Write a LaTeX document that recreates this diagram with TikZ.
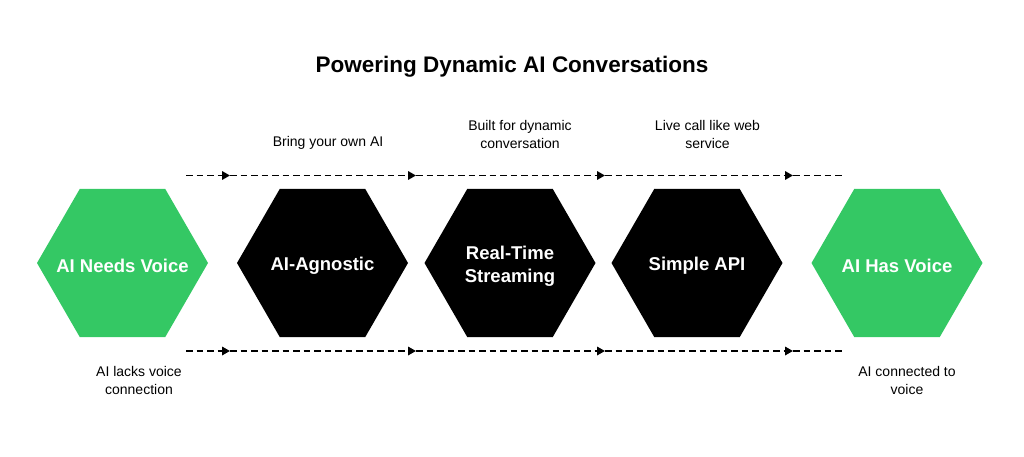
\documentclass[tikz,border=0pt]{standalone}
\usepackage{fontspec}
\setmainfont{Liberation Sans}
\usetikzlibrary{shapes.geometric, arrows.meta, positioning}
\definecolor{voicegreen}{RGB}{52,200,100}

\begin{document}
\begin{tikzpicture}[x=1pt, y=-1pt, >={Triangle[length=8pt, width=8.5pt]},
  hextext/.style={text=white, align=center, inner sep=0pt, yshift=-3pt, font=\fontsize{18.5}{23}\selectfont\bfseries},
  hexa/.style={regular polygon, regular polygon sides=6, minimum size=171pt, inner sep=0pt,
    label={[hextext]center:#1}},
  hexgreen/.style={hexa=#1, fill=voicegreen},
  hexblack/.style={hexa=#1, fill=black},
  flow/.style={->, line width=1.7pt, dash pattern=on 6.5pt off 4pt},
  note/.style={align=center, font=\fontsize{14}{17.5}\selectfont}]
\useasboundingbox (0,0) rectangle (1024,457);

\node[font=\fontsize{22.5}{27}\selectfont\bfseries, anchor=base] (title) at (512,73) {Powering Dynamic AI Conversations};

% hexagons
\node[hexgreen={AI Needs Voice}]      (needs)  at (122.5,263) {};
\node[hexblack={AI-Agnostic}]         (agn)    at (322.5,263) {};
\node[hexblack={Real-Time\\Streaming}] (stream) at (510,263)   {};
\node[hexblack={Simple API}]          (api)    at (697,263)   {};
\node[hexgreen={AI Has Voice}]        (has)    at (897,263)   {};

% notes
\node[note, anchor=base] (own)  at (328,147)     {Bring your own AI};
\node[note, anchor=base] (dyn)  at (520,148.3)   {Built for dynamic\\conversation};
\node[note, anchor=base] (web)  at (707.5,148.3) {Live call like web\\service};
\node[note, anchor=base] (lack) at (139,394)     {AI lacks voice\\connection};
\node[note, anchor=base] (conn) at (907,394)     {AI connected to\\voice};

% dashed flow lines
\foreach \r/\y in {t/175.5, b/351}{
  \foreach \i/\x in {0/186, 1/230, 2/416, 3/605, 4/793, 5/845}
    \coordinate (\r\i) at (\x,\y);
  \draw[flow] (\r0) -- (\r1);
  \draw[flow] (\r1) -- (\r2);
  \draw[flow] (\r2) -- (\r3);
  \draw[flow] (\r3) -- (\r4);
  \draw[flow, -] (\r4) -- (\r5);
}
\end{tikzpicture}
\end{document}
